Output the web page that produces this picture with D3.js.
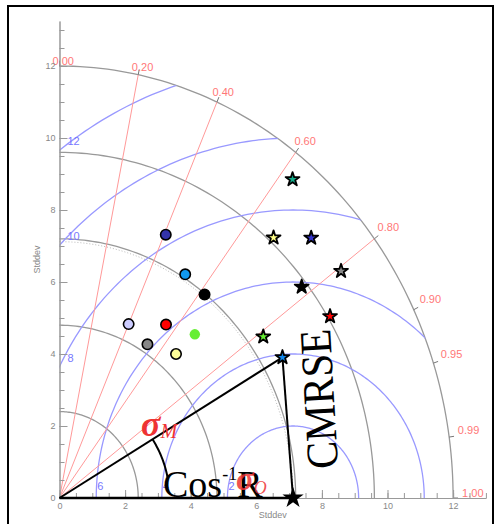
<!DOCTYPE html>
<html>
<head>
<meta charset="utf-8">
<script src="https://cdn.jsdelivr.net/npm/d3@7"></script>
<style>
  body { margin: 0; background: #fff; }
  svg { display: block; }
  text { font-family: "Liberation Sans", Arial, sans-serif; }
  text.serif { font-family: "Liberation Serif", "Times New Roman", serif; }
</style>
</head>
<body>
<div id="app"></div>
<script>
// values
const refStd = 7.12
const stdArcs = [2.4, 4.8, 7.2, 9.6, 12]
const rmsArcs = [2, 4, 6, 8, 10, 12]
const corrLines = [0.2, 0.4, 0.6, 0.8]
const corrLabels = [0, 0.2, 0.4, 0.6, 0.8, 0.9, 0.95, 0.99, 1]
const axisTicks = [0, 2, 4, 6, 8, 10, 12]

const circleStd = [8.00, 7.30, 7.18, 5.27, 5.81, 6.14, 5.04, 5.35]
const circleCorr = [0.405, 0.525, 0.616, 0.40, 0.559, 0.672, 0.532, 0.664]
const circleColors = ['#3333aa', '#1199ee', '#000000', '#ccccff', '#ff0000', '#66ee33', '#888888', '#ffff99']

const starStd = [11.35, 9.74, 10.54, 10.65, 9.43, 9.67, 7.66, 7.84]
const starCorr = [0.626, 0.670, 0.728, 0.806, 0.783, 0.853, 0.811, 0.867]
const starColors = ['#11aa88', '#ffff88', '#3333cc', '#888888', '#000000', '#ff0000', '#66ee33', '#1188ee']

const width = 500
const height = 524
const maxStd = 12

const svg = d3.select('#app')
  .append('svg')
  .attr('width', width)
  .attr('height', height)

// frame
svg.append('rect')
  .attr('x', 8).attr('y', 6)
  .attr('width', 485).attr('height', 530)
  .attr('fill', 'none')
  .attr('stroke', '#000')
  .attr('stroke-width', 2)

const x = d3.scaleLinear().domain([0, 13]).range([59.5, 59.5 + 13 * 32.8])
const y = d3.scaleLinear().domain([0, 13.25]).range([498, 498 - 13.25 * 36])

const polar = (s, c) => [x(s * c), y(s * Math.sqrt(Math.max(0, 1 - c * c)))]

const line = d3.line().x(d => x(d[0])).y(d => y(d[1]))
const angles = d3.range(0, 181).map(i => i / 180 * Math.PI)
const qAngles = angles.filter(a => a <= Math.PI / 2 + 1e-9)

// clip to the quarter disk of radius 12
const quarter = [[0, 0]].concat(qAngles.map(a => [maxStd * Math.cos(a), maxStd * Math.sin(a)]))
svg.append('clipPath').attr('id', 'quarter')
  .append('path').attr('d', line(quarter) + 'Z')

// std dev arcs
svg.append('g').selectAll('path')
  .data(stdArcs)
  .enter()
  .append('path')
  .attr('d', r => line(qAngles.map(a => [r * Math.cos(a), r * Math.sin(a)])))
  .attr('fill', 'none')
  .attr('stroke', '#999')
  .attr('stroke-width', 1.3)

// observed std dev (dotted)
svg.append('path')
  .attr('d', line(qAngles.map(a => [refStd * Math.cos(a), refStd * Math.sin(a)])))
  .attr('fill', 'none')
  .attr('stroke', '#bbb')
  .attr('stroke-dasharray', '1,2')

// centred rms arcs
svg.append('g').attr('clip-path', 'url(#quarter)')
  .selectAll('path')
  .data(rmsArcs)
  .enter()
  .append('path')
  .attr('d', r => line(angles.map(a => [refStd + r * Math.cos(a), r * Math.sin(a)])))
  .attr('fill', 'none')
  .attr('stroke', '#9999ff')
  .attr('stroke-width', 1.3)

// rms labels
svg.append('g').selectAll('text')
  .data(rmsArcs)
  .enter()
  .append('text')
  .attr('x', r => r < refStd ? x(refStd - r) + 1 : x(0) + 8)
  .attr('y', r => r < refStd ? 490 : y(Math.sqrt(r * r - refStd * refStd)) - 5)
  .attr('fill', '#7777ff')
  .attr('font-size', 11)
  .text(r => r)

// correlation lines
svg.append('g').selectAll('line')
  .data(corrLines)
  .enter()
  .append('line')
  .attr('x1', x(0)).attr('y1', y(0))
  .attr('x2', c => polar(maxStd, c)[0])
  .attr('y2', c => polar(maxStd, c)[1])
  .attr('stroke', '#ff9999')
  .attr('stroke-width', 1)

// correlation ticks + labels
svg.append('g').selectAll('line')
  .data(corrLabels)
  .enter()
  .append('line')
  .attr('x1', c => polar(maxStd, c)[0])
  .attr('y1', c => polar(maxStd, c)[1])
  .attr('x2', c => polar(maxStd + 0.15, c)[0])
  .attr('y2', c => polar(maxStd + 0.15, c)[1])
  .attr('stroke', '#777')

svg.append('g').selectAll('text')
  .data(corrLabels)
  .enter()
  .append('text')
  .attr('x', c => polar(maxStd, c)[0] - 7 + 16 * c * c)
  .attr('y', c => polar(maxStd, c)[1] - 1 - 7 * Math.sin(2 * Math.acos(c)))
  .attr('fill', '#ff7777')
  .attr('font-size', 11)
  .text(d3.format('.2f'))

// axes
const styleAxis = g => {
  g.selectAll('path, line').attr('stroke', '#999')
  g.selectAll('text').attr('fill', '#888').attr('font-size', 9)
}

const minor = d3.range(0, 13.01, 0.5)
svg.append('g')
  .attr('transform', `translate(0, ${y(0)})`)
  .call(d3.axisBottom(x).tickValues(minor).tickSizeInner(-5).tickSizeOuter(0).tickFormat(''))
  .call(styleAxis)
svg.append('g')
  .attr('transform', `translate(0, ${y(0)})`)
  .call(d3.axisBottom(x).tickValues(axisTicks).tickSizeInner(-8).tickSizeOuter(0).tickPadding(5))
  .call(styleAxis)

svg.append('g')
  .attr('transform', `translate(${x(0)}, 0)`)
  .call(d3.axisLeft(y).tickValues(minor).tickSizeInner(-5).tickSizeOuter(0).tickFormat(''))
  .call(styleAxis)
svg.append('g')
  .attr('transform', `translate(${x(0)}, 0)`)
  .call(d3.axisLeft(y).tickValues(axisTicks).tickSizeInner(-8).tickSizeOuter(0).tickPadding(4))
  .call(styleAxis)

svg.append('text')
  .attr('x', (x(0) + x(13)) / 2).attr('y', 518)
  .attr('text-anchor', 'middle')
  .attr('fill', '#888').attr('font-size', 9)
  .text('Stddev')
svg.append('text')
  .attr('transform', `translate(40, ${(y(0) + y(13.25)) / 2}) rotate(-90)`)
  .attr('text-anchor', 'middle')
  .attr('fill', '#888').attr('font-size', 9)
  .text('Stddev')

// annotation lines
const target = polar(starStd[7], starCorr[7])
const refPt = polar(refStd, 1)
svg.append('line')
  .attr('x1', x(0)).attr('y1', y(0))
  .attr('x2', target[0]).attr('y2', target[1])
  .attr('stroke', '#000').attr('stroke-width', 2)
svg.append('line')
  .attr('x1', target[0]).attr('y1', target[1])
  .attr('x2', refPt[0]).attr('y2', refPt[1])
  .attr('stroke', '#000').attr('stroke-width', 2)
svg.append('line')
  .attr('x1', x(0)).attr('y1', y(0))
  .attr('x2', refPt[0]).attr('y2', refPt[1])
  .attr('stroke', '#000').attr('stroke-width', 2.5)

// angle arc
const a0 = Math.atan2(y(0) - target[1], target[0] - x(0))
const arcR = 110
svg.append('path')
  .attr('d', d3.line()(d3.range(0, 21).map(i => {
    const a = a0 - i / 20 * (a0 - 0.19)
    return [x(0) + arcR * Math.cos(a), y(0) - arcR * Math.sin(a)]
  })))
  .attr('fill', 'none')
  .attr('stroke', '#000')
  .attr('stroke-width', 2)

// markers
svg.append('g').selectAll('circle')
  .data(circleStd)
  .enter()
  .append('circle')
  .attr('cx', (d, i) => polar(d, circleCorr[i])[0])
  .attr('cy', (d, i) => polar(d, circleCorr[i])[1])
  .attr('r', 5.2)
  .attr('fill', (d, i) => circleColors[i])
  .attr('stroke', (d, i) => i === 5 ? 'none' : '#000')
  .attr('stroke-width', 1.6)

const star = d3.symbol(d3.symbolStar)
svg.append('g').selectAll('path')
  .data(starStd)
  .enter()
  .append('path')
  .attr('d', star.size(60)())
  .attr('transform', (d, i) => `translate(${polar(d, starCorr[i])})`)
  .attr('fill', (d, i) => starColors[i])
  .attr('stroke', '#000')
  .attr('stroke-width', 1.8)
  .attr('stroke-linejoin', 'round')

svg.append('path')
  .attr('d', d3.symbol(d3.symbolStar).size(140)())
  .attr('transform', `translate(${refPt})`)
  .attr('fill', '#000')

// text annotations
const sigmaM = svg.append('text')
  .attr('class', 'serif')
  .attr('x', 141).attr('y', 436)
  .attr('fill', '#ee3333')
  .attr('font-style', 'italic')
  .attr('font-weight', 'bold')
sigmaM.append('tspan').attr('font-size', 36).text('σ')
sigmaM.append('tspan').attr('font-size', 20).attr('font-weight', 'normal').attr('dy', 2).text('M')

svg.append('text')
  .attr('class', 'serif')
  .attr('x', 163).attr('y', 497)
  .attr('fill', '#000')
  .attr('font-size', 38)
  .call(t => {
    t.append('tspan').text('Cos')
    t.append('tspan').attr('font-size', 18).attr('dy', -17).text('-1')
    t.append('tspan').attr('dy', 17).text('R')
  })

const sigmaO = svg.append('text')
  .attr('class', 'serif')
  .attr('x', 236).attr('y', 490)
  .attr('fill', '#ee3333')
  .attr('fill-opacity', 0.85)
  .attr('font-style', 'italic')
  .attr('font-weight', 'bold')
sigmaO.append('tspan').attr('font-size', 33).text('σ')
sigmaO.append('tspan').attr('font-size', 18).attr('font-weight', 'normal').attr('dy', 4).text('O')

svg.append('text')
  .attr('class', 'serif')
  .attr('transform', 'translate(338, 468) rotate(-93.3)')
  .attr('fill', '#000')
  .attr('font-size', 45)
  .attr('textLength', 140)
  .attr('lengthAdjust', 'spacingAndGlyphs')
  .text('CMRSE')
</script>
</body>
</html>
